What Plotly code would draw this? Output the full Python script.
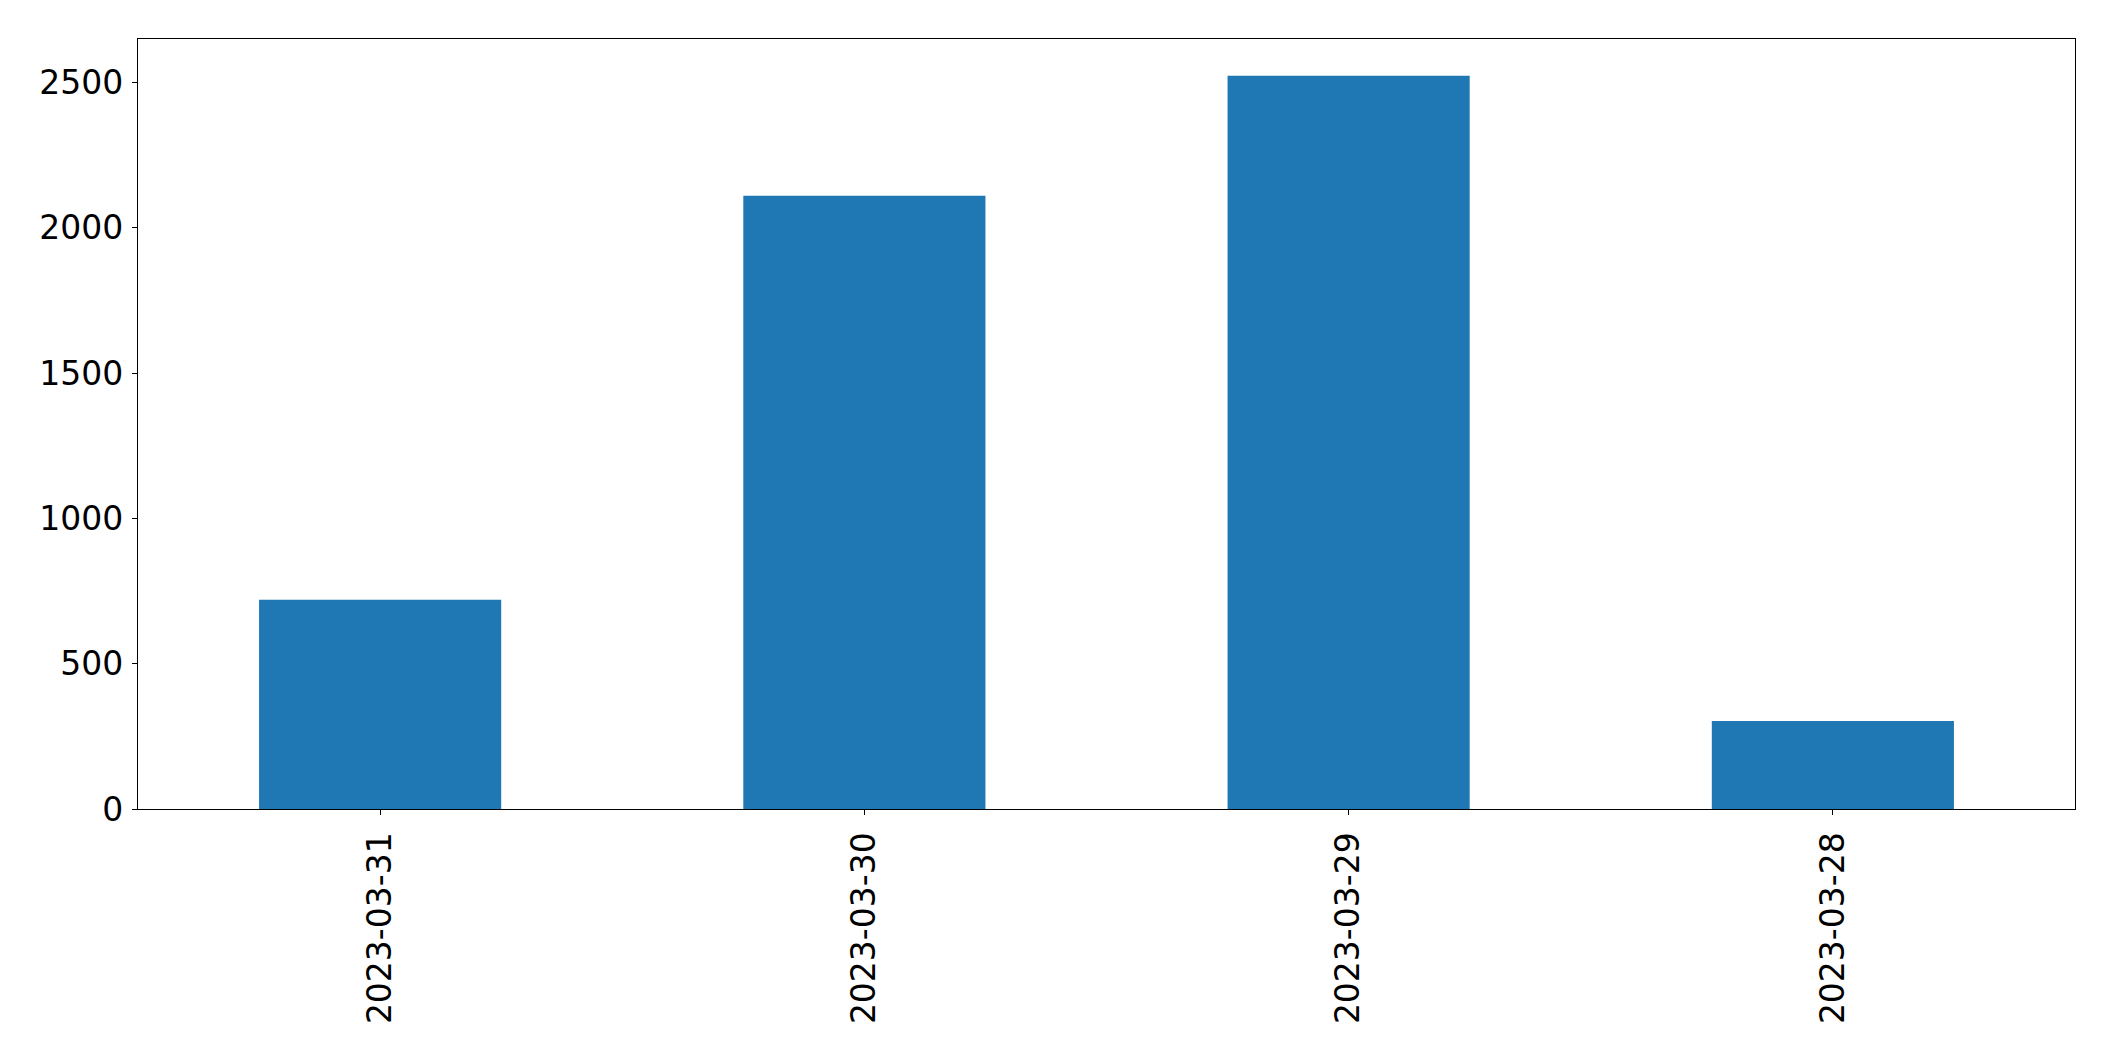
import plotly.graph_objects as go

dates = ["2023-03-31", "2023-03-30", "2023-03-29", "2023-03-28"]
counts = [720, 2110, 2523, 303]
y_ticks = [0, 500, 1000, 1500, 2000, 2500]

fig = go.Figure(go.Bar(
    x=list(range(len(dates))),
    y=counts,
    width=0.5,
    marker=dict(color="#1f77b4", line=dict(width=0)),
))

font = dict(family="DejaVu Sans", size=33, color="black")
fig.update_layout(
    width=2115, height=1061,
    margin=dict(l=130, r=48, t=31, b=260),
    plot_bgcolor="white", paper_bgcolor="white",
    showlegend=False,
    font=font,
)
fig.update_xaxes(
    range=[-0.5, len(dates) - 0.5],
    tickmode="array", tickvals=list(range(len(dates))), ticktext=dates,
    tickangle=-90, ticks="outside", ticklen=5, tickwidth=1.3, tickcolor="black",
    showline=True, linecolor="black", linewidth=1.3, mirror=True,
    showgrid=False, zeroline=False, tickfont=font, ticklabelstandoff=4,
)
fig.update_yaxes(
    range=[0, max(counts) * 1.05],
    tickmode="array", tickvals=y_ticks,
    ticks="outside", ticklen=5, tickwidth=1.3, tickcolor="black",
    showline=True, linecolor="black", linewidth=1.3, mirror=True,
    showgrid=False, zeroline=False, tickfont=font, ticklabelstandoff=2,
)
fig.write_html("out.html")
